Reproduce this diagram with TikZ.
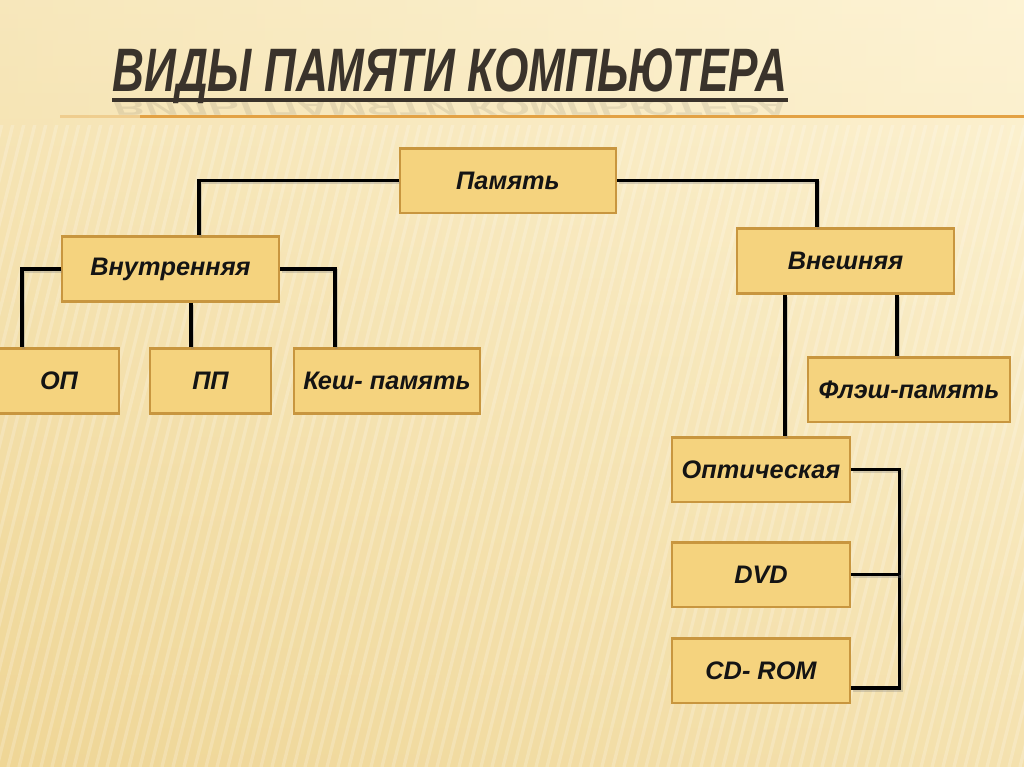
\documentclass[tikz,border=0pt]{standalone}
\usepackage{fontspec}
\setmainfont{Liberation Sans}
\usetikzlibrary{positioning}

\definecolor{bgtop}{HTML}{FDF3D4}
\definecolor{bgbot}{HTML}{EFD696}
\definecolor{boxfill}{HTML}{F5D37E}
\definecolor{boxline}{HTML}{C8963F}
\definecolor{titlegray}{HTML}{3A332B}
\definecolor{rulecol}{HTML}{E3A244}

\newcommand\memfont{\fontsize{19}{22}\selectfont\bfseries\itshape}
\newcommand\titlefont{\fontsize{46}{50}\selectfont\bfseries\itshape}

\tikzset{
  mem/.style={draw=boxline, fill=boxfill, line width=2pt, minimum height=48.5pt,
    inner sep=0pt, font=\memfont, text=black!92},
  link/.style={line width=2.5pt, black,
    preaction={draw=black!50, opacity=0.3, line width=2.5pt,
      transform canvas={shift={(1.2pt,-1.5pt)}}}}
}

\begin{document}
\begin{tikzpicture}[x=0.75pt,y=-0.75pt]
  \useasboundingbox (0,0) rectangle (1024,767);
  % background
  \shade[top color=bgtop, bottom color=bgbot] (0,0) rectangle (1024,767);
  \shade[left color=bgbot, right color=bgtop, opacity=0.4] (0,0) rectangle (1024,767);
  \begin{scope}
    \clip (0,125) rectangle (1024,767);
    \foreach \i in {-300,-289,...,1030}
      \draw[white, opacity=0.2, line width=2.5pt] (\i,767) -- (\i+160,120);
  \end{scope}

  % title
  \node[inner sep=0pt, anchor=base, text=titlegray] (title) at (450,92)
    {\titlefont\scalebox{0.72}[1]{ВИДЫ ПАМЯТИ КОМПЬЮТЕРА}};
  \node[inner sep=0pt, anchor=base, text=titlegray, opacity=0.1, yscale=-0.35] (mirror) at (450,100)
    {\titlefont\scalebox{0.72}[1]{ВИДЫ ПАМЯТИ КОМПЬЮТЕРА}};
  \draw[titlegray, line width=2.4pt] ([yshift=-6pt]title.base west) -- ([yshift=-6pt]title.base east);
  \draw[rulecol, line width=2.2pt, opacity=0.35] (60,116.5) -- (140,116.5);
  \draw[rulecol, line width=2.2pt] (140,116.5) -- (1024,116.5);

  % boxes
  \node[mem, minimum width=162pt] (pam) at (508,180.5) {Память};
  \node[mem, minimum width=162.75pt] (vnutr) at (170.5,269) {Внутренняя};
  \node[mem, minimum width=90pt] (op) at (59,381) {ОП};
  \node[mem, minimum width=90.75pt] (pp) at (210.5,381) {ПП};
  \node[mem, minimum width=139.5pt] (kesh) at (387,381) {Кеш- память};
  \node[mem, minimum width=162.75pt] (vnesh) at (845.5,261) {Внешняя};
  \node[mem, minimum width=151.5pt] (flash) at (909,389.5) {Флэш-память};
  \node[mem, minimum width=133.5pt] (opt) at (761,469.5) {Оптическая};
  \node[mem, minimum width=133.5pt] (dvd) at (761,574.5) {DVD};
  \node[mem, minimum width=133.5pt] (cd) at (761,670.5) {CD- ROM};

  % connectors
  \draw[link] (pam.west) -| ([xshift=21.4pt]vnutr.north);
  \draw[link] (pam.east) -| ([xshift=-21.4pt]vnesh.north);
  \draw[link] (vnutr.west) -| ([xshift=-27.75pt]op.north);
  \draw[link] ([xshift=-14.6pt]pp.north) -- ([xshift=-14.6pt]pp.north |- vnutr.south);
  \draw[link] (vnutr.east) -| ([xshift=-39pt]kesh.north);
  \draw[link] ([xshift=18pt]opt.north) -- ([xshift=18pt]opt.north |- vnesh.south);
  \draw[link] ([xshift=-9pt]flash.north) -- ([xshift=-9pt]flash.north |- vnesh.south);
  \coordinate (bus) at ([xshift=36pt]opt.east);
  \draw[link] (opt.east) -- (bus) |- ([yshift=-13pt]cd.east);
  \draw[link] (dvd.east) -- (dvd.east -| bus);
\end{tikzpicture}
\end{document}
